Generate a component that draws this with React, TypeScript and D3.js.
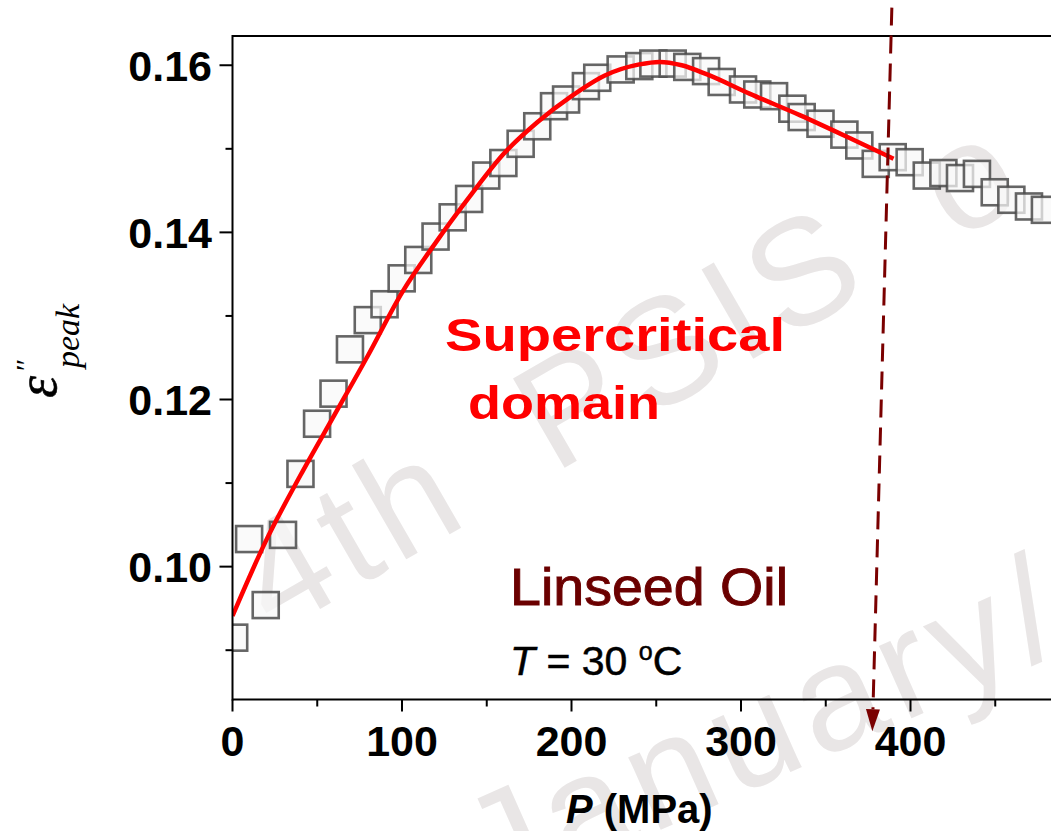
import React from "react";
import * as d3 from "d3";

const W = 1051;
const H = 831;

// Measured loss-peak height versus pressure (Linseed oil, T = 30 °C)
const pressure = [
  1, 9.8, 19.6, 29.8, 40.1, 49.9, 59.6, 69.3, 79.8, 89.7, 99.8, 109.6, 119.8,
  129.9, 139.6, 149.7, 159.8, 170, 179.8, 189.7, 196.8, 208.5, 215.2, 229, 240,
  248.3, 259.7, 268.3, 279.4, 288.6, 301.2, 309.6, 319.5, 330.3, 335.8, 346.9,
  361, 369.8, 379.5, 389.5, 399.5, 409.6, 419.4, 429.2, 439.2, 449.7, 459.5,
  469.9, 479.3,
];
const epsPeak = [
  0.0915, 0.1033, 0.0954, 0.1038, 0.1111, 0.1171, 0.1207, 0.126, 0.1295,
  0.1314, 0.1345, 0.1367, 0.1395, 0.1418, 0.144, 0.1468, 0.1483, 0.1506,
  0.1527, 0.1551, 0.1559, 0.1575, 0.1585, 0.1595, 0.1599, 0.1602, 0.1602,
  0.1598, 0.1593, 0.158, 0.1571, 0.1565, 0.1563, 0.1548, 0.1538, 0.153,
  0.1517, 0.1504, 0.1482, 0.149, 0.1484, 0.1468, 0.1471, 0.1465, 0.147,
  0.1448, 0.1439, 0.1431, 0.1427,
];

// Fitted curve through the supercritical domain
const fitPressure = [0, 20, 40, 60, 80, 100, 120, 140, 160, 180, 200, 220, 240, 252, 265, 280, 305, 335, 365, 390];
const fitEps = [
  0.0941, 0.1032, 0.1109, 0.1181, 0.1253, 0.1328, 0.1388, 0.1443, 0.1494,
  0.1532, 0.1563, 0.1588, 0.1601, 0.1604, 0.16, 0.1589, 0.1566, 0.154,
  0.1512, 0.1488,
];

// Transition marker (dashed arrow), pressure / value at both ends
const arrowP = [389, 377.5];
const arrowV = [0.1669, 0.0803];

const xTicks = [0, 100, 200, 300, 400];
const xMinor = [50, 150, 250, 350, 450];
const yTicks = [0.1, 0.12, 0.14, 0.16];
const yMinor = [0.09, 0.11, 0.13, 0.15];

const PLOT_LEFT = 232.5;
const PLOT_TOP = 36;
const PLOT_BOTTOM = 699.5;

const x = d3.scaleLinear().domain([0, 500]).range([PLOT_LEFT, PLOT_LEFT + 847.5]);
const y = d3.scaleLinear().domain([0.0841, 0.1635]).range([PLOT_BOTTOM, PLOT_TOP]);

const SQ = 26;

export default function App() {
  const fitLine = d3
    .line<number>()
    .x((_, i) => x(fitPressure[i]))
    .y((d) => y(d))
    .curve(d3.curveMonotoneX)(fitEps) as string;

  const ax0 = x(arrowP[0]);
  const ay0 = y(arrowV[0]);
  const ax1 = x(arrowP[1]);
  const ay1 = y(arrowV[1]);
  const len = Math.hypot(ax1 - ax0, ay1 - ay0);
  const ux = (ax1 - ax0) / len;
  const uy = (ay1 - ay0) / len;
  const headLen = 22;
  const headHalf = 7;
  const bx = ax1 - ux * headLen;
  const by = ay1 - uy * headLen;
  const head = [
    [ax1, ay1],
    [bx - uy * headHalf, by + ux * headHalf],
    [bx + uy * headHalf, by - ux * headHalf],
  ]
    .map((p) => p.join(","))
    .join(" ");

  const sans = "'Liberation Sans', Arial, Helvetica, sans-serif";
  const serif = "'Liberation Serif', 'Times New Roman', serif";

  return (
    <svg
      width={W}
      height={H}
      viewBox={`0 0 ${W} ${H}`}
      style={{ position: "absolute", left: 0, top: 0, background: "#fff" }}
    >
      <defs>
        <clipPath id="plotClip">
          <rect x={PLOT_LEFT} y={PLOT_TOP} width={W - PLOT_LEFT} height={PLOT_BOTTOM - PLOT_TOP} />
        </clipPath>
      </defs>
      <rect x={0} y={0} width={W} height={H} fill="#fff" />

      {/* conference watermark */}
      <g fill="#e9e6e6" fontFamily={sans} fontSize={150} letterSpacing={8} wordSpacing={40}>
        <text transform="translate(275,635) rotate(-30)">4th PSIS o</text>
        <text transform="translate(492,905) rotate(-24)">January/</text>
      </g>

      {/* data squares */}
      <g clipPath="url(#plotClip)">
        {pressure.map((p, i) => (
          <rect
            key={i}
            x={x(p) - SQ / 2}
            y={y(epsPeak[i]) - SQ / 2}
            width={SQ}
            height={SQ}
            fill="#f8f8f8"
            fillOpacity={0.72}
            stroke="#4a4a4a"
            strokeOpacity={0.85}
            strokeWidth={2.6}
          />
        ))}
        <path d={fitLine} fill="none" stroke="#ff0000" strokeWidth={4.5} />
      </g>

      {/* frame */}
      <g stroke="#000" strokeWidth={2} fill="none">
        <line x1={PLOT_LEFT} x2={W} y1={PLOT_TOP} y2={PLOT_TOP} />
        <line x1={PLOT_LEFT} x2={W} y1={PLOT_BOTTOM} y2={PLOT_BOTTOM} />
        <line x1={PLOT_LEFT} x2={PLOT_LEFT} y1={PLOT_TOP - 1} y2={PLOT_BOTTOM + 1} />
        {xTicks.map((t) => (
          <line key={"xt" + t} x1={x(t)} x2={x(t)} y1={PLOT_BOTTOM} y2={PLOT_BOTTOM + 12} />
        ))}
        {xMinor.map((t) => (
          <line key={"xm" + t} x1={x(t)} x2={x(t)} y1={PLOT_BOTTOM} y2={PLOT_BOTTOM + 7} />
        ))}
        {yTicks.map((t) => (
          <line key={"yt" + t} x1={PLOT_LEFT - 13} x2={PLOT_LEFT} y1={y(t)} y2={y(t)} />
        ))}
        {yMinor.map((t) => (
          <line key={"ym" + t} x1={PLOT_LEFT - 7} x2={PLOT_LEFT} y1={y(t)} y2={y(t)} />
        ))}
      </g>

      {/* tick labels */}
      <g fontFamily={sans} fontWeight="bold" fontSize={43} fill="#000">
        {xTicks.map((t) => (
          <text key={"xl" + t} x={x(t)} y={756} textAnchor="middle">
            {t}
          </text>
        ))}
        {yTicks.map((t) => (
          <text key={"yl" + t} x={212} y={y(t) + 15.5} textAnchor="end">
            {t.toFixed(2)}
          </text>
        ))}
      </g>

      {/* axis titles */}
      <text x={566} y={823} fontFamily={sans} fontWeight="bold" fontSize={40} fill="#000">
        <tspan fontStyle="italic">P</tspan>
        <tspan> (MPa)</tspan>
      </text>
      <g transform="translate(56,398) rotate(-90)" fill="#000" fontFamily={serif} fontStyle="italic">
        <text x={0} y={0} fontSize={56} stroke="#000" strokeWidth={0.6}>ε</text>
        <text x={25} y={-20} fontSize={30}>″</text>
        <text x={30} y={23} fontSize={34}>peak</text>
      </g>

      {/* annotations */}
      <g fontFamily={sans} fontWeight="bold" fontSize={46} fill="#ff0000">
        <text x={445} y={350.5} textLength={340} lengthAdjust="spacingAndGlyphs">
          Supercritical
        </text>
        <text x={468} y={418.5} textLength={192} lengthAdjust="spacingAndGlyphs">
          domain
        </text>
      </g>
      <text
        x={510}
        y={605}
        fontFamily={sans}
        fontSize={51}
        fill="#6b0000"
        stroke="#6b0000"
        strokeWidth={0.9}
        textLength={278}
        lengthAdjust="spacingAndGlyphs"
      >
        Linseed Oil
      </text>
      <text x={510} y={675} fontFamily={sans} fontSize={41} fill="#000" stroke="#000" strokeWidth={0.5}>
        <tspan fontStyle="italic">T</tspan>
        <tspan> = 30 </tspan>
        <tspan dy={-15} fontSize={25}>o</tspan>
        <tspan dy={15}>C</tspan>
      </text>

      {/* transition pressure arrow */}
      <line
        x1={ax0}
        y1={ay0}
        x2={bx}
        y2={by}
        stroke="#7a0000"
        strokeWidth={3}
        strokeDasharray="18 10"
      />
      <polygon points={head} fill="#7a0000" />
    </svg>
  );
}
